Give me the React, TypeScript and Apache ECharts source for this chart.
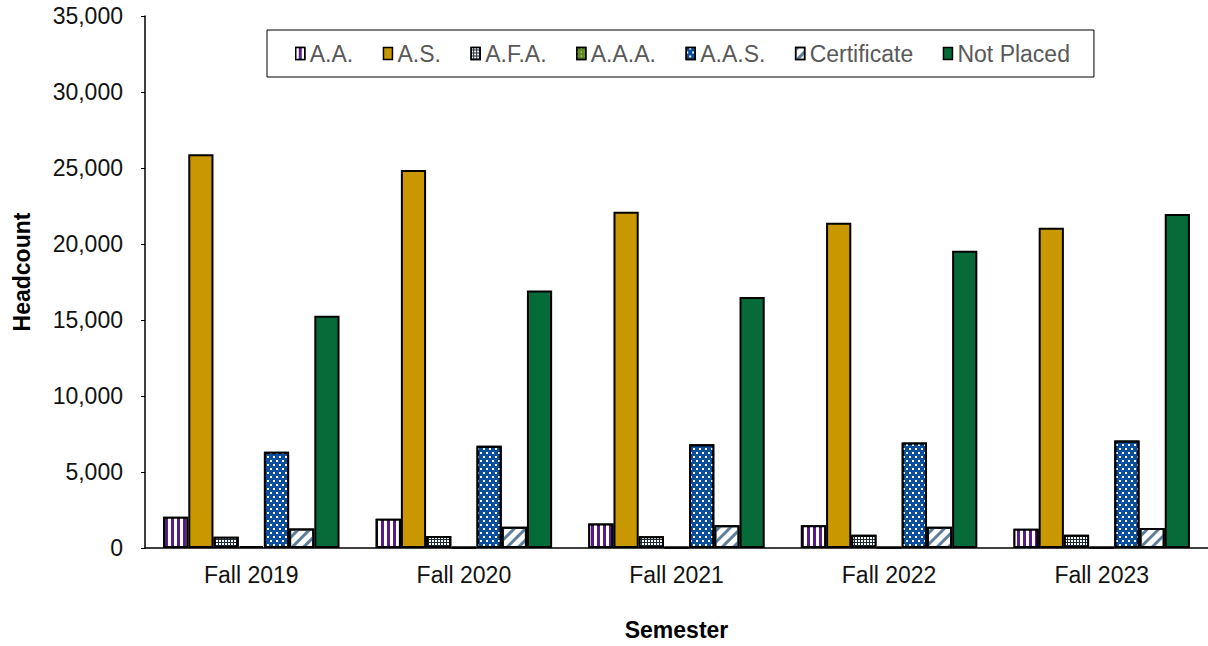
import React, { useEffect, useRef } from "react";
import * as echarts from "echarts";

const semesters = ["Fall 2019", "Fall 2020", "Fall 2021", "Fall 2022", "Fall 2023"];
const seriesNames = ["A.A.", "A.S.", "A.F.A.", "A.A.A.", "A.A.S.", "Certificate", "Not Placed"];
const aaValues = [2050, 1925, 1620, 1490, 1270];
const asValues = [25900, 24870, 22120, 21400, 21070];
const afaValues = [740, 790, 770, 875, 875];
const aaaValues = [120, 60, 50, 50, 50];
const aasValues = [6340, 6720, 6830, 6940, 7070];
const certValues = [1290, 1400, 1490, 1400, 1310];
const notPlacedValues = [15280, 16940, 16520, 19560, 21980];
const yTicks = { min: 0, max: 35000, interval: 5000 };

const FONT = "'Liberation Sans', Arial, Helvetica, sans-serif";

export default function App() {
  const ref = useRef<HTMLDivElement>(null);
  useEffect(() => {
    if (!ref.current) return;
    const chart = echarts.init(ref.current, null, { renderer: "svg" });
    const border = { borderColor: "#000", borderWidth: 2 };
    const styles: any[] = [
      {
        color: "#581C87",
        ...border,
        decal: { symbol: "rect", symbolSize: 1, symbolKeepAspect: false, color: "#ffffff", dashArrayX: [2.5, 3], dashArrayY: [5, 0] },
      },
      { color: "#C99700", ...border },
      {
        color: "#1c2a36",
        ...border,
        decal: { symbol: "rect", symbolSize: 1, symbolKeepAspect: false, color: "#ffffff", dashArrayX: [2, 1], dashArrayY: [2, 1] },
      },
      {
        color: "#5F8A1E",
        ...border,
        decal: { symbol: "rect", symbolSize: 1, symbolKeepAspect: false, color: "#ffffff", dashArrayX: [1, 3], dashArrayY: [1, 3] },
      },
      {
        color: "#0B4F9C",
        ...border,
        decal: {
          symbol: "rect",
          symbolSize: 1,
          symbolKeepAspect: false,
          color: "#ffffff",
          dashArrayX: [[1.5, 3.5], [0, 2.5, 1.5, 1]],
          dashArrayY: [1.5, 2],
        },
      },
      {
        color: "#ffffff",
        ...border,
        decal: {
          symbol: "rect",
          symbolSize: 1,
          symbolKeepAspect: false,
          color: "#5E7E99",
          dashArrayX: [1, 0],
          dashArrayY: [2.5, 5],
          rotation: -Math.PI / 4,
        },
      },
      { color: "#066B38", ...border },
    ];
    const dataSets = [aaValues, asValues, afaValues, aaaValues, aasValues, certValues, notPlacedValues];
    chart.setOption({
      animation: false,
      textStyle: { fontFamily: FONT },
      legend: {
        left: 267,
        top: 30,
        padding: [12, 24, 12, 28],
        backgroundColor: "#fff",
        borderColor: "#000",
        borderWidth: 1,
        borderRadius: 0,
        icon: "rect",
        itemWidth: 9,
        itemHeight: 12,
        itemGap: 29.5,
        itemStyle: { borderColor: "#000", borderWidth: 1.5 },
        textStyle: { color: "#595959", fontSize: 23, fontFamily: FONT },
        data: seriesNames,
      },
      grid: { left: 145, right: 0, top: 16, bottom: 92, containLabel: false },
      xAxis: {
        type: "category",
        data: semesters,
        axisLine: { lineStyle: { color: "#000", width: 1.5 } },
        axisTick: { show: false },
        axisLabel: { color: "#111", fontSize: 23, margin: 15, fontFamily: FONT },
        name: "Semester",
        nameLocation: "middle",
        nameGap: 70,
        nameTextStyle: { color: "#000", fontSize: 23, fontWeight: "bold", fontFamily: FONT },
      },
      yAxis: {
        type: "value",
        min: yTicks.min,
        max: yTicks.max,
        interval: yTicks.interval,
        axisLine: { show: true, lineStyle: { color: "#000", width: 1.5 } },
        axisTick: { show: true, length: 4, lineStyle: { color: "#000" } },
        axisLabel: {
          color: "#111",
          fontSize: 23,
          margin: 22,
          fontFamily: FONT,
          formatter: (v: number) => v.toLocaleString("en-US"),
        },
        splitLine: {
          lineStyle: { color: "#2a2a2a", width: 1.5, shadowColor: "rgba(0,0,0,0.35)", shadowOffsetY: 1.5, shadowBlur: 0 },
        },
        name: "Headcount",
        nameLocation: "middle",
        nameGap: 112,
        nameTextStyle: { color: "#000", fontSize: 23, fontWeight: "bold", fontFamily: FONT, padding: [0, 0, 0, 20] },
      },
      series: seriesNames.map((name, i) => ({
        name,
        type: "bar",
        data: dataSets[i],
        barGap: "0%",
        barCategoryGap: "17%",
        itemStyle: styles[i],
        emphasis: { disabled: true },
      })),
    });
    return () => chart.dispose();
  }, []);
  return (
    <div
      ref={ref}
      style={{ position: "fixed", left: 0, top: 0, width: 1208, height: 646, background: "#fff" }}
    />
  );
}
